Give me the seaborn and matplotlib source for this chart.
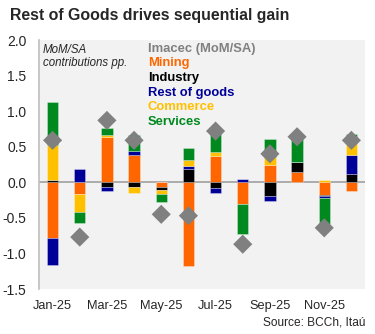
import numpy as np
import pandas as pd
import matplotlib
matplotlib.use("Agg")
import matplotlib.pyplot as plt
import seaborn as sns

# Monthly contributions to Imacec (MoM/SA, pp.)
months = ["Jan-25", "Feb-25", "Mar-25", "Apr-25", "May-25", "Jun-25",
          "Jul-25", "Aug-25", "Sep-25", "Oct-25", "Nov-25", "Dec-25"]
tick_labels = ["Jan-25", "", "Mar-25", "", "May-25", "", "Jul-25", "",
               "Sep-25", "", "Nov-25", ""]
mining = [-0.78, -0.17, 0.64, 0.39, -0.07, -1.17, 0.37, -0.30, 0.25, 0.15, -0.18, -0.12]
industry = [0.03, 0.00, -0.06, -0.06, -0.04, 0.19, -0.08, -0.01, -0.19, 0.13, -0.015, 0.12]
rest_of_goods = [-0.38, 0.19, -0.06, 0.05, 0.00, 0.035, -0.065, 0.04, -0.07, 0.00, -0.02, 0.26]
commerce = [0.49, -0.25, 0.02, -0.09, -0.06, 0.085, 0.055, 0.00, 0.10, 0.00, 0.03, 0.17]
services = [0.61, -0.15, 0.11, 0.22, -0.11, 0.17, 0.29, -0.42, 0.26, 0.33, -0.37, 0.13]
imacec = [0.59, -0.77, 0.87, 0.59, -0.45, -0.47, 0.72, -0.87, 0.40, 0.64, -0.64, 0.59]

series = {
    "Mining": mining,
    "Industry": industry,
    "Rest of goods": rest_of_goods,
    "Commerce": commerce,
    "Services": services,
}
colors = {
    "Imacec (MoM/SA)": "#808080",
    "Mining": "#FF6600",
    "Industry": "#000000",
    "Rest of goods": "#000099",
    "Commerce": "#FFC000",
    "Services": "#00891F",
}

sns.set_theme(style="white")
plt.rcParams["font.family"] = ["Liberation Sans", "DejaVu Sans"]

fig = plt.figure(figsize=(3.75, 3.34), dpi=100)
ax = fig.add_axes([0.104, 0.1347, 0.8693, 0.7455])
ax.set_facecolor("#F2F2F2")

x = np.arange(len(months))
pos_base = np.zeros(len(months))
neg_base = np.zeros(len(months))
for name, vals in series.items():
    v = np.asarray(vals, dtype=float)
    base = np.where(v >= 0, pos_base, neg_base)
    ax.bar(x, v, bottom=base, width=0.42, color=colors[name],
           edgecolor=(1, 1, 1, 0.35), linewidth=0.6, zorder=2)
    pos_base = pos_base + np.where(v > 0, v, 0)
    neg_base = neg_base + np.where(v < 0, v, 0)

ax.axhline(0, color="#A6A6A6", linewidth=1.3, zorder=1.5)

df = pd.DataFrame({"pos": x, "imacec": imacec})
sns.scatterplot(data=df, x="pos", y="imacec", marker="D", s=95,
                color=colors["Imacec (MoM/SA)"], edgecolor="none",
                zorder=3, ax=ax, legend=False)

ax.set_xlim(-0.5, len(months) - 0.5)
ax.set_ylim(-1.5, 2.0)
ax.set_yticks(np.arange(-1.5, 2.01, 0.5))
ax.set_yticklabels([f"{t:.1f}" for t in np.arange(-1.5, 2.01, 0.5)], fontsize=10)
ax.set_xticks(x)
ax.set_xticklabels(tick_labels, fontsize=9.2)
ax.tick_params(axis="y", length=0, pad=9)
ax.tick_params(axis="x", length=0, pad=8)
ax.set_xlabel("")
ax.set_ylabel("")
for side in ["top", "right", "bottom"]:
    ax.spines[side].set_visible(False)
ax.spines["left"].set_color("#BFBFBF")
ax.spines["left"].set_linewidth(1.2)

ax.text(0.012, 0.985, "MoM/SA\ncontributions pp.", transform=ax.transAxes,
        ha="left", va="top", fontsize=8.3, style="italic", linespacing=1.15)

for i, name in enumerate(colors):
    ax.text(0.334, 0.965 - i * 0.059, name, transform=ax.transAxes,
            ha="left", va="center", fontsize=9.4, fontweight="bold",
            color=colors[name])

fig.text(0.027, 0.955, "Rest of Goods drives sequential gain", ha="left",
         va="center", fontsize=11.4, fontweight="bold")
fig.text(0.975, 0.035, "Source: BCCh, Itaú", ha="right", va="center",
         fontsize=8.6)

fig.savefig("out.png", dpi=100)
